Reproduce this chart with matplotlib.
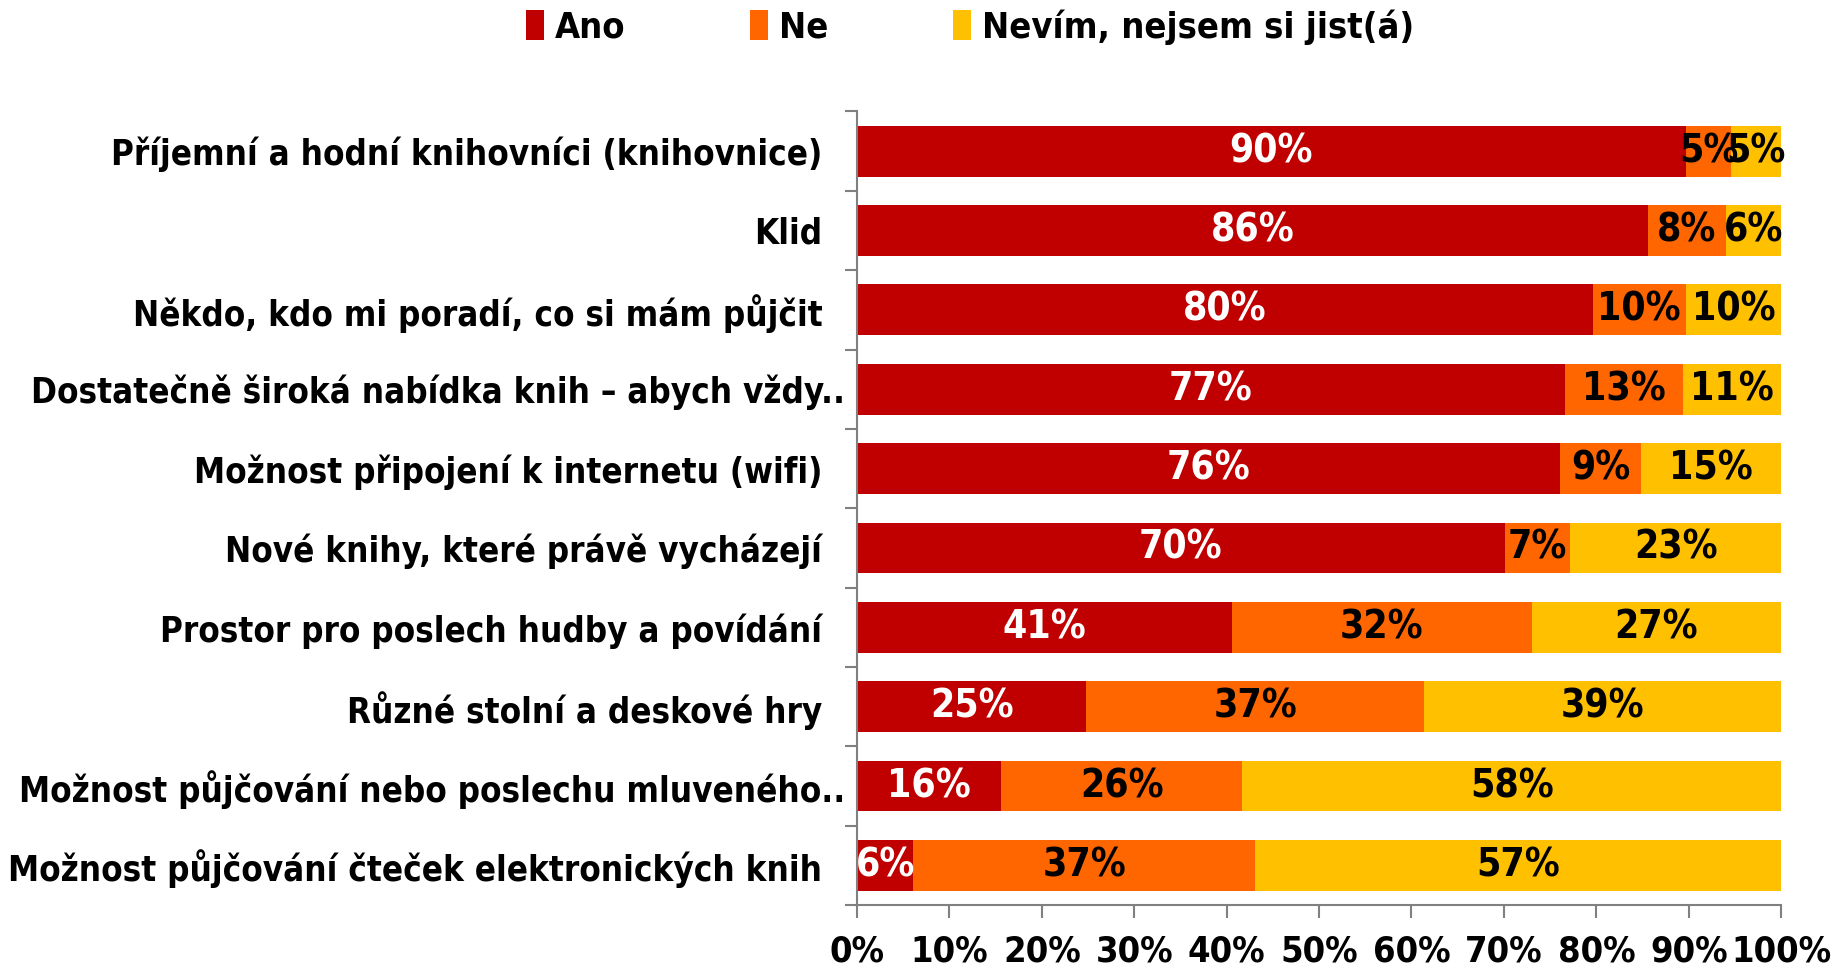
import numpy as np
import matplotlib.pyplot as plt
from matplotlib.patches import Patch
from matplotlib.transforms import ScaledTranslation
from matplotlib import font_manager

# Odpovědi v procentech (Ano / Ne / Nevím) pro jednotlivé položky
kategorie = [
    "Příjemní a hodní knihovníci (knihovnice)",
    "Klid",
    "Někdo, kdo mi poradí, co si mám půjčit",
    "Dostatečně široká nabídka knih – abych vždy..",
    "Možnost připojení k internetu (wifi)",
    "Nové knihy, které právě vycházejí",
    "Prostor pro poslech hudby a povídání",
    "Různé stolní a deskové hry",
    "Možnost půjčování nebo poslechu mluveného..",
    "Možnost půjčování čteček elektronických knih",
]
ano = [89.7, 85.6, 79.6, 76.6, 76.1, 70.1, 40.6, 24.8, 15.6, 6.1]
ne = [4.9, 8.4, 10.1, 12.8, 8.7, 7.1, 32.4, 36.6, 26.1, 37.0]
nevim = [5.4, 6.0, 10.3, 10.6, 15.2, 22.8, 27.0, 38.6, 58.3, 56.9]

serie = ["Ano", "Ne", "Nevím, nejsem si jist(á)"]
barvy = ["#C00000", "#FF6600", "#FFC000"]
barvy_textu = ["white", "black", "black"]

# úzké tučné písmo, pokud je k dispozici
uzke = [f for f in font_manager.fontManager.ttflist
        if f.name == 'DejaVu Sans' and f.stretch == 'condensed' and f.weight == 700]
plt.rcParams['font.family'] = ['DejaVu Sans']
plt.rcParams['font.weight'] = 'bold'
plt.rcParams['font.stretch'] = 'condensed'
velikost = 26 if uzke else 23

fig = plt.figure(figsize=(18.41, 9.69), dpi=100)
ax = fig.add_axes([0.4655, 0.066, 0.502, 0.819])

y = np.arange(len(kategorie))
vlevo = np.zeros(len(kategorie))
for hodnoty, barva, barva_textu in zip([ano, ne, nevim], barvy, barvy_textu):
    h = np.array(hodnoty)
    sloupce = ax.barh(y, h, left=vlevo, height=0.64, color=barva)
    popisky = ax.bar_label(sloupce, labels=[f"{v:.0f}%" for v in h], label_type='center',
                           color=barva_textu, fontsize=velikost + 2, fontweight='bold')
    for p in popisky:
        p.set_transform(p.get_transform() + ScaledTranslation(0, -0.03, fig.dpi_scale_trans))
    vlevo += h

ax.set_xlim(0, 100)
ax.set_ylim(len(kategorie) - 0.5, -0.5)
ax.set_xticks(np.arange(0, 101, 10))
ax.set_xticklabels([f"{v}%" for v in range(0, 101, 10)], fontsize=velikost, fontweight='bold')
ax.set_yticks(y)
ax.set_yticklabels(kategorie, fontsize=velikost - 1, fontweight='bold')
ax.set_yticks(np.arange(-0.5, len(kategorie), 1), minor=True)

ax.tick_params(axis='y', which='major', length=0, pad=25)
ax.tick_params(axis='y', which='minor', length=9, width=1.5, color='#808080', direction='out')
ax.tick_params(axis='x', which='major', length=9, width=1.5, color='#808080', direction='out', pad=12)

# zkrácené popisky s ".." přesahují trochu blíž k ose
for popisek in ax.get_yticklabels():
    if popisek.get_text().endswith(".."):
        popisek.set_transform(popisek.get_transform() + ScaledTranslation(0.23, 0, fig.dpi_scale_trans))

for strana in ['top', 'right']:
    ax.spines[strana].set_visible(False)
for strana in ['left', 'bottom']:
    ax.spines[strana].set_color('#808080')
    ax.spines[strana].set_linewidth(1.5)

# legenda nahoře
polozky = [Patch(facecolor=b, edgecolor='none') for b in barvy]
fig.legend(polozky, serie, loc='center', bbox_to_anchor=(0.527, 0.972), ncol=3,
           frameon=False, fontsize=velikost, handlelength=0.5, handleheight=0.9,
           handletextpad=0.3, columnspacing=3.45)

fig.savefig("out.png", dpi=100)
